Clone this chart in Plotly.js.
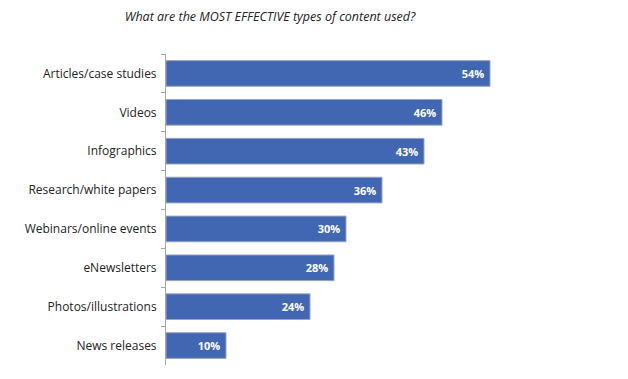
<!DOCTYPE html>
<html><head><meta charset="utf-8">
<script src="https://cdn.plot.ly/plotly-3.0.1.min.js"></script>
<style>html,body{margin:0;padding:0;background:#fff}</style>
</head><body><div id="chart" style="width:628px;height:379px"></div>
<script>
const categories = ["Articles/case studies","Videos","Infographics","Research/white papers","Webinars/online events","eNewsletters","Photos/illustrations","News releases"];
const values = [54,46,43,36,30,28,24,10];
const labels = values.map(v => "<b>" + v + "%</b>\u00a0");

const data = [{
  type: "bar", orientation: "h",
  x: values, y: categories,
  text: labels, textposition: "inside", insidetextanchor: "end",
  textfont: {color: "#ffffff", size: 11, family: "Open Sans, sans-serif"},
  marker: {color: "#4267b2", line: {color: "#9aa5bd", width: 1}},
  width: 0.66, hoverinfo: "none", cliponaxis: false
}];

const layout = {
  width: 628, height: 379,
  margin: {l: 166, r: 102, t: 54, b: 14},
  paper_bgcolor: "#ffffff", plot_bgcolor: "#ffffff",
  showlegend: false,
  title: {text: "<i>What are the MOST EFFECTIVE types of content used?</i>",
    x: 0.43, xanchor: "center", y: 0.955, yanchor: "middle",
    font: {size: 12.5, color: "#222", family: "Open Sans, sans-serif"}},
  xaxis: {range: [0, 60], visible: false, fixedrange: true},
  yaxis: {autorange: "reversed", type: "category",
    showline: true, linecolor: "#a6a6a6", linewidth: 1,
    ticks: "outside", tickson: "boundaries", ticklen: 4, tickcolor: "#a6a6a6",
    showgrid: false, zeroline: false, ticklabelstandoff: 6,
    tickfont: {size: 12, color: "#222", family: "Open Sans, sans-serif"}},
  bargap: 0.34
};
Plotly.newPlot("chart", data, layout, {displayModeBar: false, staticPlot: true});
</script></body></html>
